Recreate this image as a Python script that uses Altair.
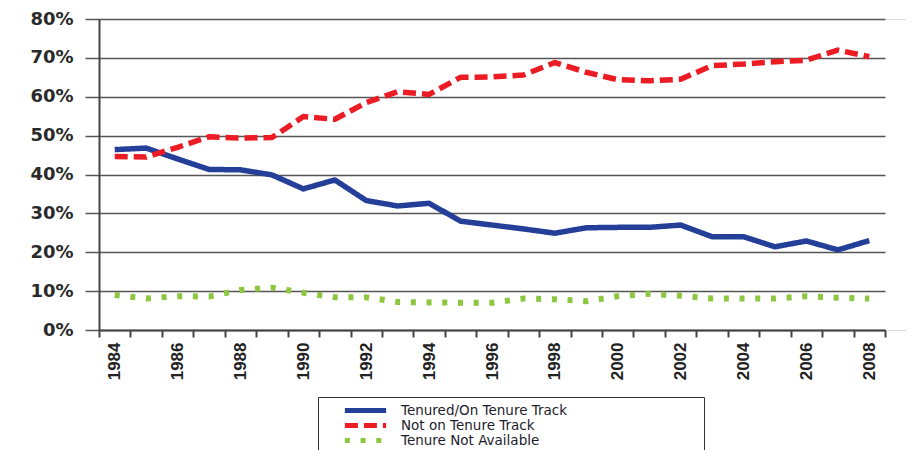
import altair as alt
import pandas as pd

years = list(range(1984, 2009))
tenured = [46.4, 46.8, 44.0, 41.3, 41.2, 39.9, 36.3, 38.6, 33.3, 31.9, 32.6,
           28.0, 27.0, 26.0, 24.9, 26.3, 26.4, 26.4, 27.0, 24.0, 24.0, 21.4, 22.9, 20.6, 23.0]
not_track = [44.6, 44.5, 47.0, 49.7, 49.4, 49.5, 54.9, 54.2, 58.5, 61.3, 60.6,
             65.0, 65.1, 65.6, 68.8, 66.3, 64.4, 64.1, 64.5, 68.0, 68.4, 69.0, 69.4, 72.0, 70.3]
not_avail = [9.0, 8.1, 8.7, 8.6, 10.3, 10.9, 9.6, 8.4, 8.4, 7.2, 7.1,
             7.0, 7.0, 8.1, 7.9, 7.4, 8.7, 9.3, 8.8, 8.1, 8.1, 8.1, 8.7, 8.3, 8.1]

series_names = ["Tenured/On Tenure Track", "Not on Tenure Track", "Tenure Not Available"]
series_colors = ["#233f98", "#ec1c24", "#8dc63f"]
series_dashes = [[1, 0], [13, 6], [5, 10.7]]

rows = []
for name, vals in zip(series_names, [tenured, not_track, not_avail]):
    for yr, v in zip(years, vals):
        rows.append({"year": yr, "value": v, "series": name})
df = pd.DataFrame(rows)

# blank padding so the legend box is as wide as in the reference
pad_right = "\u00a0" * 28 + "\u2800"

legend = alt.Legend(
    title=None,
    orient="none",
    legendX=219,
    legendY=378,
    direction="vertical",
    symbolType="stroke",
    symbolSize=1700,
    symbolStrokeWidth=5,
    clipHeight=15,
    rowPadding=0,
    labelFont="DejaVu Sans",
    labelFontSize=13.5,
    labelColor="#1c1c2c",
    labelOffset=12,
    labelLimit=600,
    labelExpr="datum.label + '" + pad_right + "'",
    symbolOffset=18,
    padding=6,
    strokeColor="#333333",
    fillColor="white",
)

x_enc = alt.X(
    "year:O",
    bandPosition=0.5,
    scale=alt.Scale(type="band", range=[0, 786], paddingInner=0, paddingOuter=0),
    axis=alt.Axis(
        title=None,
        tickBand="extent",
        labelAngle=270,
        labelExpr="toNumber(datum.value) % 2 == 0 ? datum.label : ''",
        labelFont="Liberation Sans",
        labelFontWeight="bold",
        labelFontSize=17,
        labelColor="#222222",
        labelPadding=5,
        tickSize=7,
        tickWidth=2,
        tickColor="#444444",
        domainColor="#444444",
        domainWidth=2,
        grid=False,
    ),
)

y_enc = alt.Y(
    "value:Q",
    scale=alt.Scale(domain=[0, 80], nice=False),
    axis=alt.Axis(
        title=None,
        values=[0, 10, 20, 30, 40, 50, 60, 70, 80],
        labelExpr="datum.value + '%'",
        labelFont="DejaVu Sans",
        labelFontWeight="bold",
        labelFontSize=18,
        labelColor="#2a2a2a",
        labelPadding=12,
        tickSize=14,
        tickWidth=1.5,
        tickColor="#555555",
        domainColor="#444444",
        domainWidth=2,
        grid=True,
        gridColor="#555555",
        gridWidth=1.5,
    ),
)

color_enc = alt.Color("series:N", scale=alt.Scale(domain=series_names, range=series_colors), legend=legend)
dash_enc = alt.StrokeDash("series:N", scale=alt.Scale(domain=series_names, range=series_dashes), legend=legend)

base = alt.Chart(df).encode(x=x_enc, y=y_enc, color=color_enc, strokeDash=dash_enc,
                            order=alt.Order("year:Q"))

solid_dash = base.transform_filter(
    alt.datum.series != "Tenure Not Available"
).mark_line(strokeWidth=5.5, strokeCap="butt", strokeJoin="round")

dots = base.transform_filter(
    alt.datum.series == "Tenure Not Available"
).mark_line(strokeWidth=6, strokeCap="butt", strokeJoin="round")

chart = alt.layer(solid_dash, dots).properties(
    width=807,
    height=311,
    autosize=alt.AutoSizeParams(type="none"),
    padding={"left": 91, "top": 11, "right": 0, "bottom": 120},
).configure_view(stroke=None).configure(background="white")

chart.save("out.html", embed_options={"renderer": "svg", "actions": False})
